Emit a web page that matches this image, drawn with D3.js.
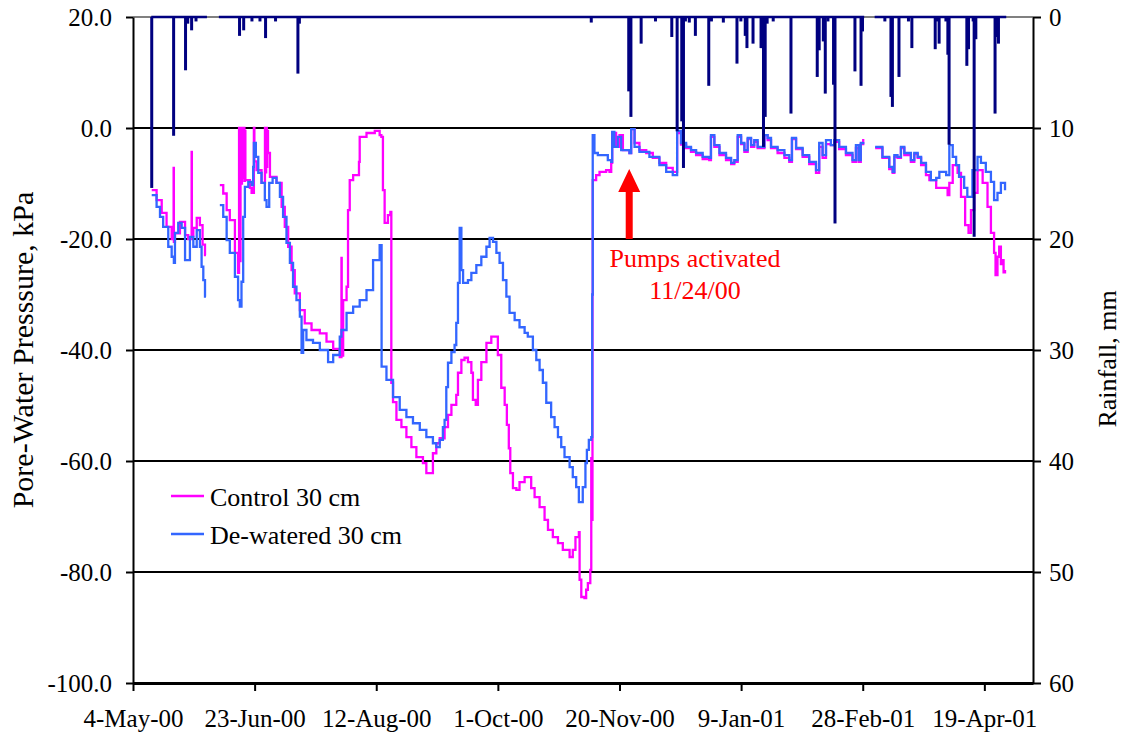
<!DOCTYPE html>
<html>
<head>
<meta charset="utf-8">
<script src="https://cdn.jsdelivr.net/npm/d3@7/dist/d3.min.js"></script>
<style>
  html, body { margin: 0; padding: 0; background: #fff; }
  svg { display: block; }
  svg text { font-family: "Liberation Serif", "DejaVu Serif", "Times New Roman", Times, serif; }
</style>
</head>
<body>
<svg id="chart" width="1122" height="740"></svg>
<script>
// Record start; all readings are given as days since this date.
const recordStart = Date.UTC(2000, 4, 4);

// Pore-water pressure (kPa), control plot, 30 cm depth: [day, kPa]; null = logger gap
const control30 = [
  [7.7,-11.2],[9.7,-13.0],[11.8,-15.3],[13.8,-17.8],[15.9,-20.0],[16.6,-20.0],[16.7,-7.2],[16.8,-20.5],
  [17.25,-19.0],[19.3,-16.9],[21.4,-19.3],[22.7,-20.0],[24.0,-20.0],[24.1,-4.3],[24.2,-19.5],[24.8,-18.0],
  [26.2,-16.2],[27.5,-17.5],[28.6,-21.0],[29.6,-22.9],[30.0,-22.9],[32.5,null],
  [35.7,-10.3],[37.1,-11.8],[38.5,-14.8],[39.8,-16.6],[41.9,-22.5],[43.2,-26.1],[43.45,-26.1],[43.6,0.0],
  [43.9,-24.0],[44.2,0.0],[44.5,-10.0],[44.8,0.0],[45.1,-9.0],[45.4,0.0],[45.8,-9.5],[46.0,-0.5],[46.2,-9.4],
  [48.05,-10.8],[48.75,-11.7],[49.5,-11.7],[49.7,0.0],[49.9,-6.0],[50.8,-7.6],[52.85,-9.9],[54.1,-9.9],
  [54.25,0.0],[54.5,-8.0],[54.75,0.0],[55.0,-7.0],[55.2,-0.5],[55.5,-4.5],[56.3,-8.8],[57.6,-8.8],
  [59.0,-9.9],[61.1,-14.2],[62.4,-17.8],[63.8,-21.4],[65.2,-25.6],[66.5,-29.8],[68.6,-32.8],[70.6,-35.2],
  [73.4,-36.4],[76.8,-37.0],[79.55,-38.5],[82.3,-39.8],[85.0,-41.3],[85.6,-41.3],[85.7,-23.4],[85.8,-41.0],
  [86.4,-31.0],[87.8,-28.6],[88.4,-14.8],[89.1,-9.4],[90.5,-8.5],[91.9,-8.5],[92.9,-6.1],[93.2,-1.6],
  [96.0,-0.9],[98.7,-0.9],[99.4,-0.5],[101.4,-1.3],[102.1,-1.6],[102.75,-11.2],[103.45,-17.1],[104.8,-15.7],
  [105.8,-15.1],[106.2,-45.9],[106.9,-49.4],[108.3,-52.6],[110.35,-53.9],[112.4,-55.7],[114.45,-57.5],
  [116.5,-59.3],[117.9,-59.3],[119.2,-60.4],[120.6,-62.2],[122.0,-62.2],[123.3,-58.6],[124.7,-56.8],
  [126.1,-55.9],[128.1,-53.9],[129.5,-51.7],[130.9,-49.9],[132.9,-48.1],[133.6,-44.1],[135.0,-41.8],
  [136.3,-41.4],[137.7,-42.2],[139.1,-44.1],[139.75,-49.0],[140.9,-49.9],[141.8,-45.4],[143.2,-42.2],
  [145.3,-38.7],[147.3,-37.6],[148.7,-37.6],[150.0,-40.9],[151.4,-46.8],[152.8,-49.9],[153.7,-53.5],
  [154.5,-57.7],[155.1,-62.2],[156.2,-64.9],[157.6,-65.2],[158.9,-63.8],[161.0,-62.9],[163.0,-62.9],
  [163.7,-64.9],[165.1,-66.5],[167.15,-68.3],[169.2,-70.6],[170.6,-72.4],[172.6,-73.7],[174.7,-74.8],
  [176.7,-76.0],[179.5,-77.3],[180.8,-76.0],[181.9,-73.7],[183.3,-72.8],[183.6,-81.4],[184.3,-84.5],
  [185.6,-84.7],[186.3,-83.2],[187.0,-82.0],[188.0,-79.6],[188.4,-59.5],[188.6,-70.6],[188.9,-30.0],
  [189.0,-9.4],[190.4,-8.5],[191.8,-7.9],[194.5,-7.6],[195.9,-7.9],[196.6,-6.3],[197.0,-0.9],[198.6,-3.4],
  [200.0,-1.3],[201.4,-4.0],[204.1,-4.5],[204.8,-0.2],[206.2,-2.7],[208.2,-4.0],[211.0,-4.5],[213.7,-5.4],
  [216.4,-6.3],[219.2,-7.2],[221.9,-7.9],[223.3,-7.9],[223.7,-0.9],[225.3,-3.0],[227.4,-3.6],[229.4,-4.3],
  [231.5,-4.9],[234.2,-5.6],[236.9,-5.8],[237.6,-1.6],[239.0,-3.4],[241.1,-4.9],[243.8,-5.8],[245.9,-6.5],
  [247.2,-6.1],[248.6,-1.6],[250.0,-2.9],[251.35,-4.3],[252.7,-2.0],[254.1,-3.4],[255.4,-2.5],[256.8,-3.6],
  [258.2,-3.6],[259.6,-1.3],[260.9,-2.2],[262.3,-3.6],[265.0,-4.5],[267.8,-5.4],[269.8,-6.1],[270.9,-2.0],
  [272.6,-3.8],[275.3,-5.2],[278.0,-6.5],[280.8,-8.1],[282.1,-3.4],[283.5,-5.4],[284.9,-2.9],[286.9,-3.1],
  [288.3,-2.5],[290.3,-3.8],[293.1,-4.9],[295.8,-6.1],[297.2,-3.6],[298.3,-6.1],[299.2,-2.9],[300.2,-2.0],
  [302.5,null],
  [305.1,-3.6],[308.1,-5.4],[310.9,-7.4],[312.3,-8.1],[313.0,-5.2],[314.3,-5.4],[315.7,-3.6],[317.1,-4.9],
  [319.8,-6.1],[321.2,-4.7],[322.6,-5.4],[324.0,-6.7],[326.0,-8.5],[327.4,-9.4],[330.2,-10.8],[332.9,-10.8],
  [334.9,-12.1],[335.6,-9.9],[337.0,-6.7],[339.0,-8.1],[340.4,-12.4],[342.1,-17.5],[343.5,-18.9],
  [344.5,-14.8],[345.8,-11.7],[347.2,-7.6],[349.3,-9.9],[351.3,-14.2],[352.7,-18.9],[354.0,-22.5],
  [354.6,-26.5],[355.4,-23.2],[356.1,-21.4],[356.8,-24.5],[357.4,-23.8],[357.9,-26.0],[358.5,-25.6]
];

// Pore-water pressure (kPa), de-watered plot, 30 cm depth: [day, kPa]
const dewatered30 = [
  [7.7,-12.1],[9.7,-14.2],[11.1,-16.0],[12.4,-17.8],[14.5,-21.4],[15.9,-23.2],[16.8,-24.3],[17.25,-18.9],
  [18.6,-17.1],[20.0,-18.0],[21.4,-23.8],[22.7,-23.8],[23.4,-19.6],[24.8,-21.4],[26.2,-18.4],[27.5,-21.4],
  [28.2,-25.0],[28.9,-27.4],[29.6,-30.4],[30.0,-30.4],[32.5,null],
  [35.7,-13.9],[37.1,-16.0],[38.5,-20.2],[39.8,-22.5],[41.9,-26.8],[43.2,-31.0],[43.9,-32.2],[44.6,-27.7],
  [45.3,-16.0],[46.0,-10.6],[47.4,-9.7],[48.8,-10.3],[49.4,-7.0],[49.7,-2.7],[50.5,-5.2],[51.5,-8.1],
  [52.85,-9.9],[54.2,-13.0],[54.9,-14.2],[56.0,-9.9],[57.4,-9.0],[59.0,-9.9],[60.4,-12.4],[61.7,-16.0],
  [63.1,-20.7],[64.5,-24.3],[65.8,-28.6],[67.2,-31.0],[68.6,-34.0],[69.3,-40.5],[69.95,-36.4],[71.3,-38.2],
  [74.0,-38.7],[76.8,-40.0],[80.2,-42.2],[82.3,-40.9],[85.0,-37.6],[85.7,-36.4],[87.8,-33.3],[90.5,-32.2],
  [93.2,-31.0],[96.0,-29.2],[98.7,-23.8],[101.4,-21.1],[102.1,-21.1],[102.2,-43.0],[104.2,-45.4],
  [106.9,-48.5],[109.65,-50.8],[112.4,-52.1],[115.1,-53.2],[117.9,-54.4],[120.6,-55.7],[123.3,-56.8],
  [124.7,-57.5],[126.1,-56.2],[127.4,-53.9],[128.1,-52.6],[128.8,-46.7],[129.5,-42.3],[130.9,-40.4],
  [132.2,-39.1],[132.9,-35.1],[133.6,-27.9],[134.3,-18.0],[135.0,-25.6],[135.7,-27.9],[137.7,-27.4],
  [139.1,-26.1],[141.15,-24.7],[143.2,-23.2],[145.3,-21.4],[146.6,-19.8],[148.0,-20.5],[149.4,-22.5],
  [150.7,-24.3],[152.1,-27.4],[153.5,-30.4],[154.8,-33.3],[156.9,-34.6],[158.9,-35.9],[161.0,-36.9],
  [162.3,-37.6],[164.4,-40.0],[165.8,-41.8],[167.15,-43.6],[168.5,-45.9],[169.9,-49.5],[171.9,-52.1],
  [173.3,-53.9],[174.7,-55.7],[176.05,-57.5],[177.4,-59.3],[179.5,-61.1],[180.8,-62.9],[182.2,-64.7],
  [183.3,-67.4],[184.5,-67.4],[184.9,-64.7],[186.0,-60.4],[186.6,-58.0],[187.4,-56.2],[188.4,-55.7],
  [188.8,-30.0],[189.0,-1.3],[189.7,-4.5],[191.1,-4.9],[193.1,-4.9],[195.2,-5.8],[196.6,-6.1],[197.0,-0.7],
  [197.9,-3.4],[199.3,-1.6],[200.7,-4.0],[204.1,-4.5],[204.8,-0.2],[206.2,-3.4],[208.2,-4.3],[212.3,-5.2],
  [216.4,-6.7],[219.2,-7.9],[221.9,-8.5],[223.3,-8.5],[223.7,-0.5],[225.3,-2.7],[227.4,-3.4],[229.4,-4.0],
  [231.5,-4.5],[234.2,-5.2],[236.9,-5.4],[237.6,-1.3],[239.0,-3.1],[241.1,-4.5],[243.8,-5.4],[245.9,-6.3],
  [247.2,-5.8],[248.6,-1.3],[250.0,-2.7],[251.35,-4.0],[252.7,-1.8],[254.1,-3.1],[255.4,-2.2],[256.8,-3.4],
  [258.2,-3.4],[259.6,-1.3],[260.9,-1.8],[262.3,-3.4],[265.0,-4.0],[267.8,-4.9],[269.8,-5.8],[270.9,-1.8],
  [272.6,-3.6],[275.3,-4.9],[278.0,-6.1],[280.8,-7.6],[282.1,-2.7],[283.5,-4.9],[284.9,-2.2],[286.9,-3.1],
  [288.3,-2.2],[290.3,-3.4],[293.1,-4.5],[295.8,-5.8],[297.2,-3.1],[298.3,-5.8],[299.2,-2.7],[300.2,-2.5],
  [302.5,null],
  [305.1,-3.4],[308.1,-5.2],[310.9,-7.0],[312.3,-7.9],[313.0,-4.9],[314.3,-5.2],[315.7,-3.4],[317.1,-4.5],
  [319.8,-5.8],[321.2,-4.5],[322.6,-5.2],[324.0,-6.3],[326.0,-7.9],[328.0,-9.4],[330.2,-9.0],[331.5,-7.9],
  [334.3,-8.5],[335.6,-3.1],[337.0,-5.2],[338.4,-6.7],[339.6,-8.8],[341.7,-10.8],[343.0,-12.4],
  [345.1,-7.6],[347.2,-5.2],[348.6,-6.3],[350.6,-7.9],[352.7,-9.7],[354.0,-13.0],[355.4,-11.7],
  [356.8,-9.9],[358.5,-11.2]
];

// Rainfall events: [day, mm]
const rainfall = [
  [7.7,15.4],[16.7,10.7],[21.6,4.8],[22.5,0.6],[24.1,1.2],[25.9,0.4],[43.8,1.7],[45.5,1.2],[48.9,0.4],
  [52.2,0.4],[54.5,1.9],[58.6,0.4],[67.8,5.1],[68.4,0.6],[188.4,0.5],[203.8,6.7],[204.7,9.0],[208.9,2.4],
  [214.8,0.4],[221.5,1.8],[223.7,10.3],[225.6,9.4],[226.3,13.6],[227.1,0.4],[228.7,0.5],[231.2,1.7],
  [236.7,6.2],[237.8,0.4],[242.7,0.5],[248.3,4.2],[249.9,0.4],[251.7,1.7],[252.4,2.8],[254.9,2.4],
  [258.2,2.8],[258.6,2.8],[259.2,11.7],[259.9,9.0],[260.7,0.6],[263.2,0.4],[270.5,8.7],[281.3,5.4],
  [282.1,3.0],[283.8,2.2],[284.6,6.9],[285.7,0.4],[288.0,6.1],[288.6,18.6],[296.8,4.9],[299.3,6.2],
  [299.9,1.3],[309.1,0.4],[311.6,7.2],[312.2,8.1],[314.9,5.4],[318.8,0.4],[320.2,2.8],[329.8,2.9],
  [330.7,0.4],[331.4,2.4],[334.2,0.4],[335.0,3.4],[335.5,11.5],[342.8,4.4],[343.5,2.9],[345.4,0.4],
  [345.8,19.8],[346.5,2.0],[354.4,8.7],[355.1,1.8],[355.8,2.4]
];
// Days covered by the rain gauge record
const rainRecord = [[7.5, 30.4], [35.3, 300.6], [304.9, 359.0]];

// Axis ticks
const dateTicks = ["2000-05-04","2000-06-23","2000-08-12","2000-10-01","2000-11-20","2001-01-09","2001-02-28","2001-04-19"];
const pressureTicks = [-100, -80, -60, -40, -20, 0, 20];
const rainTicks = [0, 10, 20, 30, 40, 50, 60];

// Legend and annotation
const seriesNames = ["Control 30 cm", "De-watered 30 cm"];
const seriesColors = ["#FF00FF", "#3366FF"];
const rainColor = "#000080";
const pumpDate = "2000-11-24";
const pumpLabel = ["Pumps activated", "11/24/00"];

const asDate = d => new Date(recordStart + d * 864e5);
const parseDay = d3.utcParse("%Y-%m-%d");

const W = 1122, H = 740;
const margin = { top: 17, right: 89, bottom: 57, left: 133 };
const svg = d3.select("#chart");
const serif = '"Liberation Serif", "DejaVu Serif", "Times New Roman", Times, serif';

const x = d3.scaleUtc()
  .domain([asDate(0), asDate(370)])
  .range([margin.left, W - margin.right]);
const y = d3.scaleLinear().domain([-100, 20]).range([H - margin.bottom, margin.top]);
const yRain = d3.scaleLinear().domain([0, 60]).range([margin.top, H - margin.bottom]);

// Plot-area border at the top
svg.append("line")
  .attr("x1", margin.left).attr("x2", W - margin.right)
  .attr("y1", margin.top).attr("y2", margin.top)
  .attr("stroke", "#808080").attr("stroke-width", 2);

// Horizontal gridlines
svg.append("g").selectAll("line")
  .data(pressureTicks.filter(v => v > -100 && v < 20))
  .join("line")
  .attr("x1", margin.left).attr("x2", W - margin.right)
  .attr("y1", d => y(d)).attr("y2", d => y(d))
  .attr("stroke", "#000").attr("stroke-width", 2);

// Left axis
const fmt1 = d => d.toFixed(1);
const gLeft = svg.append("g")
  .attr("transform", `translate(${margin.left},0)`)
  .call(d3.axisLeft(y).tickValues(pressureTicks).tickFormat(fmt1).tickSize(7).tickSizeOuter(0).tickPadding(14));

// Right axis
const gRight = svg.append("g")
  .attr("transform", `translate(${W - margin.right},0)`)
  .call(d3.axisRight(yRain).tickValues(rainTicks).tickSize(8).tickSizeOuter(0).tickPadding(8));

// Bottom axis
const gBottom = svg.append("g")
  .attr("transform", `translate(0,${H - margin.bottom})`)
  .call(d3.axisBottom(x).tickValues(dateTicks.map(parseDay))
    .tickFormat(d3.utcFormat("%-d-%b-%y")).tickSize(8).tickSizeOuter(0).tickPadding(18));

[gLeft, gRight, gBottom].forEach(g => {
  g.attr("font-family", serif).attr("font-size", 25);
  g.selectAll(".domain").attr("stroke", "#000").attr("stroke-width", 2);
  g.selectAll(".tick line").attr("stroke", "#000").attr("stroke-width", 2);
  g.selectAll(".tick text").attr("fill", "#000");
});
gBottom.select(".domain").attr("stroke-width", 3);

// Pore-water pressure lines (logger readings held until the next reading)
const line = d3.line()
  .defined(d => d[1] !== null)
  .curve(d3.curveStepAfter)
  .x(d => x(asDate(d[0])))
  .y(d => y(d[1]));

[control30, dewatered30].forEach((series, i) => {
  svg.append("path")
    .datum(series)
    .attr("fill", "none")
    .attr("stroke", seriesColors[i])
    .attr("stroke-width", 2.3)
    .attr("d", line);
});

// Rainfall: baseline along the gauge record and a bar per event, hanging from the top
svg.append("g").selectAll("line")
  .data(rainRecord)
  .join("line")
  .attr("x1", d => x(asDate(d[0]))).attr("x2", d => x(asDate(d[1])))
  .attr("y1", yRain(0)).attr("y2", yRain(0))
  .attr("stroke", rainColor).attr("stroke-width", 2.5);

svg.append("g").selectAll("rect")
  .data(rainfall)
  .join("rect")
  .attr("x", d => x(asDate(d[0])) - 1.5)
  .attr("width", 3)
  .attr("y", yRain(0))
  .attr("height", d => yRain(d[1]) - yRain(0))
  .attr("fill", rainColor);

// Axis titles
svg.append("text")
  .attr("transform", `translate(33,${(margin.top + H - margin.bottom) / 2}) rotate(-90)`)
  .attr("text-anchor", "middle")
  .attr("font-family", serif)
  .attr("font-size", 30)
  .text("Pore-Water Presssure, kPa");

svg.append("text")
  .attr("transform", `translate(1116,${(margin.top + H - margin.bottom) / 2 + 9}) rotate(-90)`)
  .attr("text-anchor", "middle")
  .attr("font-family", serif)
  .attr("font-size", 26)
  .text("Rainfall, mm");

// Legend
const legend = svg.append("g").attr("transform", "translate(171,496)");
seriesNames.forEach((name, i) => {
  const g = legend.append("g").attr("transform", `translate(0,${i * 38})`);
  g.append("line").attr("x1", 0).attr("x2", 33).attr("y1", 0).attr("y2", 0)
    .attr("stroke", seriesColors[i]).attr("stroke-width", 2.3);
  g.append("text").attr("x", 39).attr("y", 10)
    .attr("font-family", serif).attr("font-size", 26).text(name);
});

// Pump activation arrow and label
const px = x(parseDay(pumpDate));
const arrowTip = 169, arrowBase = y(-20);
svg.append("path")
  .attr("d", `M${px},${arrowTip} L${px + 11},${arrowTip + 23} L${px + 3.5},${arrowTip + 23} L${px + 3.5},${arrowBase} L${px - 3.5},${arrowBase} L${px - 3.5},${arrowTip + 23} L${px - 11},${arrowTip + 23} Z`)
  .attr("fill", "#FF0000");

const note = svg.append("text")
  .attr("text-anchor", "middle")
  .attr("fill", "#FF0000")
  .attr("font-family", serif)
  .attr("font-size", 26);
note.append("tspan").attr("x", 695).attr("y", 267).text(pumpLabel[0]);
note.append("tspan").attr("x", 695).attr("y", 299).text(pumpLabel[1]);
</script>
</body>
</html>
